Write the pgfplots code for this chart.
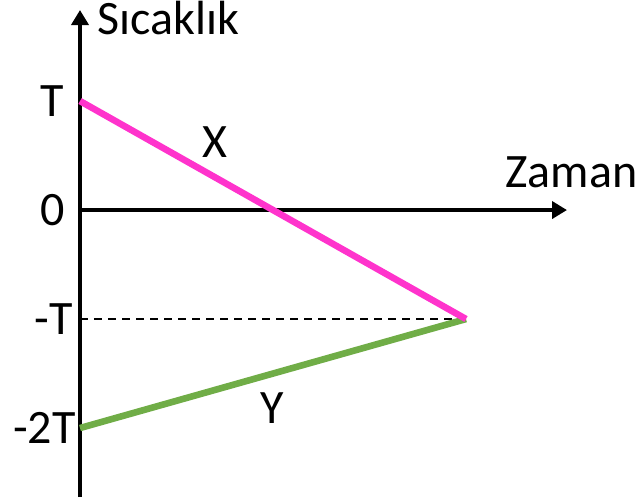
\documentclass[border=0pt]{standalone}
\usepackage{pgfplots}
\pgfplotsset{compat=1.18}
\usepackage{fontspec}
\setmainfont{Carlito}
\usetikzlibrary{arrows.meta}
\definecolor{xpink}{HTML}{FF33CC}
\definecolor{ygreen}{HTML}{70AD47}
\begin{document}
\begin{tikzpicture}[lbl/.style={font=\fontsize{24}{28}\selectfont, inner sep=0pt}]
\begin{axis}[
  x=0.5pt, y=54.5pt,
  axis lines=middle,
  axis line style={line width=2.4pt,-{Triangle[length=7.5pt,width=8.5pt]}},
  xmin=0, xmax=487, ymin=-2.633, ymax=1.835,
  xtick=\empty, ytick=\empty,
  clip=false,
]
% dashed guide at -T
\addplot[black, line width=0.75pt, dash pattern=on 4pt off 3pt] coordinates {(0,-1) (386,-1)};
% Y and X
\addplot[ygreen, line width=3.3pt] coordinates {(0,-2) (386,-1)};
\addplot[xpink, line width=3.3pt] coordinates {(0,1) (386,-1)};

\node[lbl, anchor=east] at (axis cs:-16,1) {T};
\node[lbl, anchor=east] at (axis cs:-15,0) {0};
\node[lbl, anchor=east] at (axis cs:-7,-1) {-T};
\node[lbl, anchor=east] at (axis cs:-4,-2) {-2T};
\node[lbl, anchor=base west] at (axis cs:17,1.606) {Sıcaklık};
\node[lbl, anchor=base west] at (axis cs:425,0.211) {Zaman};
\node[lbl] at (axis cs:135,0.624) {X};
\node[lbl] at (axis cs:192,-1.817) {Y};
\path (axis cs:-80,1.927) rectangle (axis cs:561,-2.670);
\end{axis}
\end{tikzpicture}
\end{document}
